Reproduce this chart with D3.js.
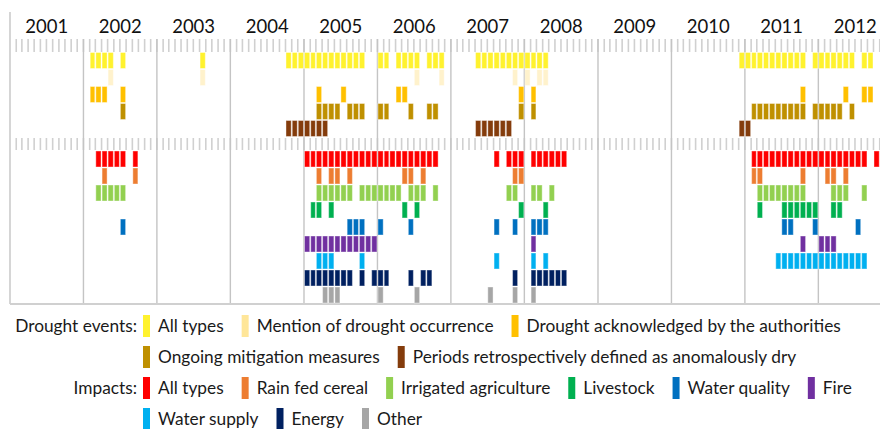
<!DOCTYPE html>
<html>
<head>
<meta charset="utf-8">
<script src="https://cdn.jsdelivr.net/npm/d3@7"></script>
<style>
  html, body { margin: 0; padding: 0; background: #fff; }
  svg { display: block; font-family: Lato, "Open Sans", sans-serif; }
</style>
</head>
<body>
<div id="chart"></div>
<script>
// years shown on the top axis
const years = ['2001','2002','2003','2004','2005','2006','2007','2008','2009','2010','2011','2012'];

// drought events, months with a mark (YYYY-MM)
const droughtAll = ['2002-02','2002-03','2002-04','2002-05','2002-07','2003-08',
  '2004-10','2004-11','2004-12','2005-01','2005-02','2005-03','2005-04','2005-05','2005-06','2005-07','2005-08','2005-09','2005-10',
  '2006-01','2006-02','2006-04','2006-05','2006-06','2006-07','2006-09','2006-10','2006-11',
  '2007-05','2007-06','2007-07','2007-08','2007-09','2007-10','2007-11','2007-12','2008-01','2008-02','2008-03','2008-04',
  '2010-12','2011-01','2011-02','2011-03','2011-04','2011-05','2011-06','2011-07','2011-08','2011-09','2011-10',
  '2011-12','2012-01','2012-02','2012-03','2012-04','2012-05','2012-06','2012-08','2012-09'];
const droughtMention = ['2002-05','2003-08','2006-07','2006-11','2007-11','2008-01','2008-03','2008-04'];
const droughtAcknowledged = ['2002-02','2002-03','2002-04','2002-07','2005-03','2005-07','2006-04','2006-05',
  '2007-12','2008-02','2011-10','2012-05','2012-08','2012-09'];
const droughtMitigation = ['2002-07','2005-03','2005-04','2005-05','2005-06','2005-08','2005-09','2005-10',
  '2006-01','2006-02','2006-06','2006-09','2006-10','2007-12','2008-02',
  '2011-02','2011-03','2011-04','2011-05','2011-06','2011-07','2011-08','2011-09','2011-10',
  '2011-12','2012-01','2012-02','2012-03','2012-04','2012-06'];
const droughtRetrospective = ['2004-10','2004-11','2004-12','2005-01','2005-02','2005-03','2005-04',
  '2007-05','2007-06','2007-07','2007-08','2007-09','2007-10','2010-12','2011-01'];

// impacts
const impactAll = ['2002-03','2002-04','2002-05','2002-06','2002-07','2002-09',
  '2005-01','2005-02','2005-03','2005-04','2005-05','2005-06','2005-07','2005-08','2005-09','2005-10','2005-11','2005-12',
  '2006-01','2006-02','2006-03','2006-04','2006-05','2006-06','2006-07','2006-08','2006-09','2006-10',
  '2007-08','2007-10','2007-11','2007-12','2008-02','2008-03','2008-04','2008-05','2008-06','2008-07',
  '2011-02','2011-03','2011-04','2011-05','2011-06','2011-07','2011-08','2011-09','2011-10','2011-11','2011-12',
  '2012-01','2012-02','2012-03','2012-04','2012-05','2012-06','2012-07','2012-08','2012-10'];
const impactRainfed = ['2002-04','2002-09','2005-03','2005-05','2005-06','2005-08','2006-05','2006-06','2006-08',
  '2007-11','2007-12','2011-02','2011-03','2011-10','2012-02','2012-03','2012-05'];
const impactIrrigated = ['2002-03','2002-04','2002-05','2002-06','2002-07',
  '2005-03','2005-04','2005-05','2005-06','2005-07','2005-08','2005-10','2005-11','2005-12',
  '2006-01','2006-02','2006-03','2006-04','2006-06','2006-07','2006-08','2006-10',
  '2007-10','2007-11','2008-02','2008-03','2008-05',
  '2011-03','2011-04','2011-05','2011-06','2011-07','2011-08','2011-09','2011-10','2012-03','2012-04','2012-05','2012-08'];
const impactLivestock = ['2005-02','2005-03','2005-05','2006-05','2006-07','2007-12','2008-04',
  '2011-03','2011-07','2011-08','2011-09','2011-10','2011-11','2011-12','2012-03','2012-04'];
const impactWaterQuality = ['2002-07','2005-08','2005-09','2005-10','2006-01','2006-06','2007-08','2007-11',
  '2008-02','2008-03','2008-04','2011-07','2011-08','2011-12','2012-07'];
const impactFire = ['2005-01','2005-02','2005-03','2005-04','2005-05','2005-06','2005-07','2005-08','2005-09','2005-10','2005-11','2005-12',
  '2008-02','2011-10','2012-01','2012-02','2012-03'];
const impactWaterSupply = ['2005-03','2005-04','2005-05','2005-10','2007-08','2008-02','2008-04',
  '2011-06','2011-07','2011-08','2011-09','2011-10','2011-11','2011-12',
  '2012-01','2012-02','2012-03','2012-04','2012-05','2012-06','2012-07','2012-08'];
const impactEnergy = ['2005-01','2005-02','2005-03','2005-04','2005-05','2005-06','2005-07','2005-08','2005-10','2005-12',
  '2006-01','2006-02','2006-06','2006-08','2006-09','2007-11','2008-02','2008-03','2008-04','2008-05','2008-06','2008-07'];
const impactOther = ['2005-04','2005-05','2005-06','2006-01','2006-07','2007-07','2007-11','2008-02'];

const droughtSeries = [
  {name: 'All types', color: '#FFF22E', months: droughtAll},
  {name: 'Mention of drought occurrence', color: '#FFE699', months: droughtMention, faded: true},
  {name: 'Drought acknowledged by the authorities', color: '#FFC000', months: droughtAcknowledged},
  {name: 'Ongoing mitigation measures', color: '#BF9000', months: droughtMitigation},
  {name: 'Periods retrospectively defined as anomalously dry', color: '#843C0C', months: droughtRetrospective}
];
const impactSeries = [
  {name: 'All types', color: '#FF0000', months: impactAll},
  {name: 'Rain fed cereal', color: '#ED7D31', months: impactRainfed},
  {name: 'Irrigated agriculture', color: '#92D050', months: impactIrrigated},
  {name: 'Livestock', color: '#00B050', months: impactLivestock},
  {name: 'Water quality', color: '#0070C0', months: impactWaterQuality},
  {name: 'Fire', color: '#7030A0', months: impactFire},
  {name: 'Water supply', color: '#00B0F0', months: impactWaterSupply},
  {name: 'Energy', color: '#002060', months: impactEnergy},
  {name: 'Other', color: '#A6A6A6', months: impactOther}
];

const width = 880, height = 429;
const svg = d3.select('#chart').append('svg').attr('width', width).attr('height', height);

const parseMonth = d3.utcParse('%Y-%m');
const start = new Date(Date.UTC(+years[0], 0, 1));
const end = new Date(Date.UTC(+years[years.length - 1] + 1, 0, 1));
const x = d3.scaleUtc().domain([start, end]).range([10, 892]);

const gridColor = '#d0d0d0';
const axisBottom = 304;

// monthly tick rows
const months = d3.utcMonth.range(start, end);
[[39, 52], [138, 150]].forEach(([y0, y1]) => {
  svg.append('g').selectAll('line').data(months.slice(1)).join('line')
    .attr('x1', d => x(d)).attr('x2', d => x(d))
    .attr('y1', y0).attr('y2', y1)
    .attr('stroke', gridColor).attr('stroke-width', 1.6);
});

// year lines
const yearStarts = years.map(y => new Date(Date.UTC(+y, 0, 1)));
svg.append('g').selectAll('line').data(yearStarts.slice(1)).join('line')
  .attr('x1', d => x(d)).attr('x2', d => x(d))
  .attr('y1', 39).attr('y2', axisBottom)
  .attr('stroke', '#c4c4c4').attr('stroke-width', 1.4);
svg.append('line').attr('x1', 10).attr('x2', 10).attr('y1', 12).attr('y2', axisBottom)
  .attr('stroke', '#c4c4c4').attr('stroke-width', 1.4);
svg.append('line').attr('x1', 10).attr('x2', width).attr('y1', axisBottom).attr('y2', axisBottom)
  .attr('stroke', gridColor).attr('stroke-width', 2);

// year labels
svg.append('g').selectAll('text').data(yearStarts).join('text')
  .attr('x', d => (x(d) + x(d3.utcYear.offset(d, 1))) / 2)
  .attr('y', 33)
  .attr('text-anchor', 'middle')
  .attr('font-size', 18.5)
  .attr('fill', '#111')
  .text(d => d.getUTCFullYear());

// bar rows
function drawRows(series, top) {
  series.forEach((s, i) => {
    const y0 = top + i * 17;
    svg.append('g').selectAll('rect').data(s.months.map(parseMonth)).join('rect')
      .attr('x', d => x(d) + 0.5)
      .attr('width', d => x(d3.utcMonth.offset(d, 1)) - x(d) - 1)
      .attr('y', y0)
      .attr('height', 16)
      .attr('fill', s.color)
      .attr('fill-opacity', s.faded ? 0.5 : 1)
      .attr('stroke', '#fff').attr('stroke-opacity', 0.4).attr('stroke-width', 1);
  });
}
drawRows(droughtSeries, 52.5);
drawRows(impactSeries, 151);

// legend
const fontSize = 17.3;
const leg = svg.append('g').attr('font-size', fontSize).attr('fill', '#1a1a1a');
const legendRows = [
  {title: 'Drought events:', items: droughtSeries.slice(0, 3)},
  {title: '', items: droughtSeries.slice(3)},
  {title: 'Impacts:', items: impactSeries.slice(0, 6)},
  {title: '', items: impactSeries.slice(6)}
];
legendRows.forEach((row, r) => {
  const base = 332 + r * 31;
  if (row.title) {
    leg.append('text').attr('x', 137).attr('y', base).attr('text-anchor', 'end').text(row.title);
  }
  let cx = 143;
  row.items.forEach(item => {
    leg.append('rect').attr('x', cx).attr('y', base - 17).attr('width', 7).attr('height', 22)
      .attr('fill', item.color);
    const t = leg.append('text').attr('x', cx + 15).attr('y', base).text(item.name);
    cx = cx + 15 + t.node().getComputedTextLength() + 18;
  });
});
</script>
</body>
</html>
